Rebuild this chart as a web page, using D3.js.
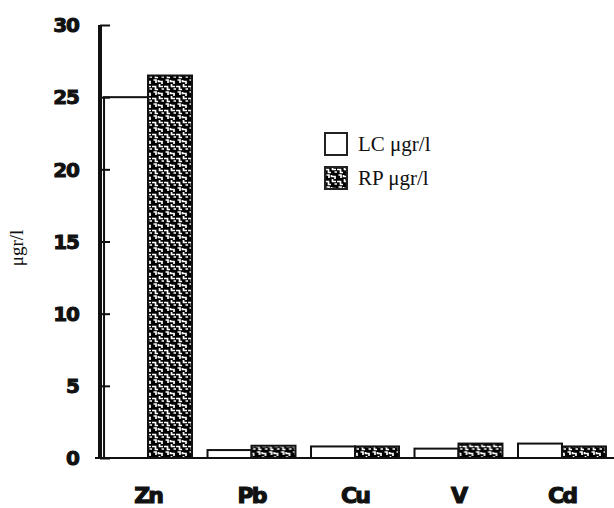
<!DOCTYPE html>
<html>
<head>
<meta charset="utf-8">
<script src="https://cdn.jsdelivr.net/npm/d3@7"></script>
<style>
  body { margin: 0; background: #fff; }
</style>
</head>
<body>
<script>
// data
var metals = ["Zn", "Pb", "Cu", "V", "Cd"];
var lc = [25, 0.55, 0.8, 0.65, 1.0];
var rp = [26.5, 0.85, 0.8, 1.0, 0.8];
var series = ["LC \u03bcgr/l", "RP \u03bcgr/l"];
var yTicks = [0, 5, 10, 15, 20, 25, 30];

var width = 614, height = 508;

var svg = d3.select("body")
        .append("svg")
        .attr("width", width)
        .attr("height", height);

// speckled fill for the RP bars
var defs = svg.append("defs");
var pat = defs.append("pattern")
        .attr("id", "speck")
        .attr("patternUnits", "userSpaceOnUse")
        .attr("width", 12)
        .attr("height", 12);
pat.append("rect").attr("width", 12).attr("height", 12).attr("fill", "#000");
pat.append("path")
        .attr("d", "M0,2.5 H3.5 V5.5 H6 M7.5,0 V2.5 H11 M1.5,8 H4 V11 M6.5,8 V9.5 H10 V12 M9.5,5 H12")
        .attr("fill", "none")
        .attr("stroke", "#fff")
        .attr("stroke-width", 1.7);

var x = d3.scaleBand()
        .domain(metals)
        .range([97, 613])
        .paddingInner(0.15)
        .paddingOuter(0.068);

var x1 = d3.scaleBand()
        .domain([0, 1])
        .range([0, x.bandwidth()]);

var y = d3.scaleLinear()
        .domain([0, 30])
        .range([458, 25]);

var groups = svg.selectAll("g.grp")
        .data(metals)
        .enter()
        .append("g")
        .attr("transform", function(d) { return "translate(" + x(d) + ",0)"; });

groups.append("rect")
        .attr("x", x1(0))
        .attr("y", function(d, i) { return y(lc[i]); })
        .attr("width", x1.bandwidth())
        .attr("height", function(d, i) { return y(0) - y(lc[i]); })
        .attr("fill", "#fff")
        .attr("stroke", "#111")
        .attr("stroke-width", 2);

groups.append("rect")
        .attr("x", x1(1))
        .attr("y", function(d, i) { return y(rp[i]); })
        .attr("width", x1.bandwidth())
        .attr("height", function(d, i) { return y(0) - y(rp[i]); })
        .attr("fill", "url(#speck)")
        .attr("stroke", "#111")
        .attr("stroke-width", 2);

// y axis, ticks pointing inward
var yAxis = svg.append("g")
        .attr("transform", "translate(100,0)")
        .call(d3.axisRight(y).tickValues(yTicks).tickSize(10).tickFormat(""));
yAxis.select(".domain").remove();
yAxis.selectAll("line").attr("stroke", "#111").attr("stroke-width", 2);
yAxis.append("line")
        .attr("x1", 0).attr("x2", 0)
        .attr("y1", y(30)).attr("y2", y(0))
        .attr("stroke", "#111").attr("stroke-width", 4);

svg.selectAll("text.ytick")
        .data(yTicks)
        .enter()
        .append("text")
        .attr("x", 79)
        .attr("y", function(d) { return y(d); })
        .attr("dy", "0.36em")
        .attr("text-anchor", "end")
        .style("font-family", "DejaVu Sans")
        .style("font-weight", "bold")
        .style("font-size", "20px")
        .style("letter-spacing", "-1px")
        .attr("fill", "#111")
        .attr("stroke", "#111")
        .attr("stroke-width", 1)
        .text(function(d) { return d; });

// x axis
svg.append("line")
        .attr("x1", 95).attr("x2", 614)
        .attr("y1", y(0)).attr("y2", y(0))
        .attr("stroke", "#111").attr("stroke-width", 2);

svg.selectAll("text.xlab")
        .data(metals)
        .enter()
        .append("text")
        .attr("x", function(d) { return x(d) + x.bandwidth() / 2; })
        .attr("y", 503)
        .attr("text-anchor", "middle")
        .style("font-family", "DejaVu Sans")
        .style("font-weight", "bold")
        .style("font-size", "22px")
        .style("letter-spacing", "-2px")
        .attr("fill", "#111")
        .attr("stroke", "#111")
        .attr("stroke-width", 1.2)
        .text(function(d) { return d; });

svg.append("text")
        .attr("transform", "translate(23,248) rotate(-90)")
        .attr("text-anchor", "middle")
        .style("font-family", "Liberation Serif")
        .style("font-size", "19px")
        .attr("fill", "#111")
        .text("\u03bcgr/l");

// legend
var leg = svg.selectAll("g.leg")
        .data(series)
        .enter()
        .append("g")
        .attr("transform", function(d, i) { return "translate(325," + (133 + i * 34) + ")"; });

leg.append("rect")
        .attr("width", 22)
        .attr("height", 22)
        .attr("fill", function(d, i) { return i ? "url(#speck)" : "#fff"; })
        .attr("stroke", "#222")
        .attr("stroke-width", 2);

leg.append("text")
        .attr("x", 33)
        .attr("y", 18)
        .style("font-family", "Liberation Serif")
        .style("font-size", "21px")
        .attr("fill", "#111")
        .text(function(d) { return d; });
</script>
</body>
</html>
